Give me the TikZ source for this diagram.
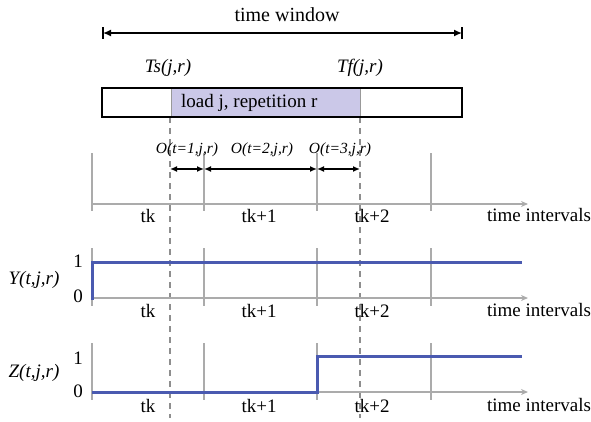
\documentclass[tikz,border=0pt]{standalone}
\usepackage{fontspec}
\setmainfont{Liberation Serif}
\usetikzlibrary{arrows.meta}
\definecolor{gridgray}{HTML}{ABABAB}
\definecolor{sigblue}{HTML}{4A5AB0}
\definecolor{loadfill}{HTML}{CBC8E8}
\definecolor{dashgray}{HTML}{8E8E8E}
\begin{document}
\begin{tikzpicture}[x=1pt,y=-1pt,
  lbl/.style={font=\fontsize{19}{22}\selectfont, inner sep=0pt, text height=13pt, text depth=4pt},
  ilbl/.style={font=\fontsize{19}{22}\selectfont\itshape, inner sep=0pt, text height=13pt, text depth=4pt},
  olbl/.style={font=\fontsize{15.5}{18}\selectfont\itshape, inner sep=0pt, text height=11pt, text depth=3.5pt},
  gridline/.style={draw=gridgray, line width=1.3pt},
  axisline/.style={draw=gridgray, line width=1.3pt, -{Stealth[length=7pt,width=6pt]}},
  signal/.style={draw=sigblue, line width=3pt},
  guide/.style={draw=dashgray, line width=1.2pt, dash pattern=on 6pt off 5pt},
  dimline/.style={draw=black, line width=1.4pt, {Latex[length=7pt,width=6pt]}-{Latex[length=7pt,width=6pt]}},
  barline/.style={draw=black, line width=1.6pt},
]
\useasboundingbox (0,0) rectangle (591,421);

% dashed guides
\coordinate (gs-top) at (170,117);
\coordinate (gs-bot) at (170,418);
\coordinate (gf-top) at (360,117);
\coordinate (gf-bot) at (360,418);
\draw[guide] (gs-top) -- (gs-bot);
\draw[guide] (gf-top) -- (gf-bot);

% time window
\node[font=\fontsize{20}{24}\selectfont, inner sep=0pt] (tw) at (287,15) {time window};
\coordinate (twl) at (103,33);
\coordinate (twr) at (462,33);
\coordinate (twl-a) at (103,27); \coordinate (twl-b) at (103,39);
\coordinate (twr-a) at (462,27); \coordinate (twr-b) at (462,39);
\draw[dimline, {Latex[length=8pt,width=7pt]}-{Latex[length=8pt,width=7pt]}] (twl) -- (twr);
\draw[barline] (twl-a) -- (twl-b);
\draw[barline] (twr-a) -- (twr-b);

% Ts / Tf
\node[ilbl] (ts) at (168,68) {Ts(j,r)};
\node[ilbl] (tf) at (360,68) {Tf(j,r)};

% load box
\draw[fill=loadfill, draw=gray!80, line width=1pt] (171,88) rectangle (360,117);
\draw[black, line width=1.5pt] (102,88) rectangle (462,117);
\node[lbl, anchor=west] (load) at (181,103) {load j, repetition r};

% ---- section 1 ----
\foreach \i/\x in {0/92,1/204,2/317,3/431}{
  \coordinate (a\i-top) at (\x,153);
  \coordinate (a\i-bot) at (\x,211);
  \draw[gridline] (a\i-top) -- (a\i-bot);
}
\coordinate (ax1-s) at (92,204);
\coordinate (ax1-e) at (528,204);
\draw[axisline] (ax1-s) -- (ax1-e);

\coordinate (o0) at (170,169);
\coordinate (o1) at (204,169);
\coordinate (o2) at (317,169);
\coordinate (o3) at (360,169);
\draw[dimline] (o0) -- (o1);
\draw[dimline] (o1) -- (o2);
\draw[dimline] (o2) -- (o3);
\node[olbl] (ol1) at (187,150) {O(t=1,j,r)};
\node[olbl] (ol2) at (262,150) {O(t=2,j,r)};
\node[olbl] (ol3) at (340,150) {O(t=3,j,r)};

\node[lbl] (t1a) at (148,218) {tk};
\node[lbl] (t1b) at (259,218) {tk+1};
\node[lbl] (t1c) at (372,218) {tk+2};
\node[lbl] (t1d) at (539,217) {time intervals};

% ---- section Y ----
\foreach \i/\x in {0/92,1/204,2/317,3/431}{
  \coordinate (b\i-top) at (\x,248);
  \coordinate (b\i-bot) at (\x,306);
  \draw[gridline] (b\i-top) -- (b\i-bot);
}
\coordinate (ax2-s) at (92,298);
\coordinate (ax2-e) at (528,298);
\draw[axisline] (ax2-s) -- (ax2-e);
\coordinate (y0) at (92,299.5);
\coordinate (y1) at (92,262);
\coordinate (y2) at (522,262);
\draw[signal] (y0) -- (y1) -- (y2);
\node[lbl] (y1l) at (78,263) {1};
\node[lbl] (y0l) at (78,298) {0};
\node[ilbl] (ylab) at (34,280) {Y(t,j,r)};
\node[lbl] (t2a) at (148,313) {tk};
\node[lbl] (t2b) at (259,313) {tk+1};
\node[lbl] (t2c) at (372,313) {tk+2};
\node[lbl] (t2d) at (539,312) {time intervals};

% ---- section Z ----
\foreach \i/\x in {0/92,1/204,2/317,3/431}{
  \coordinate (c\i-top) at (\x,343);
  \coordinate (c\i-bot) at (\x,400);
  \draw[gridline] (c\i-top) -- (c\i-bot);
}
\coordinate (ax3-s) at (92,392);
\coordinate (ax3-e) at (528,392);
\draw[axisline] (ax3-s) -- (ax3-e);
\coordinate (z0) at (92,392);
\coordinate (z1) at (317,392);
\coordinate (z2) at (317,356);
\coordinate (z3) at (522,356);
\draw[signal] (z0) -- (z1) -- (z2) -- (z3);
\node[lbl] (z1l) at (78,360) {1};
\node[lbl] (z0l) at (78,393) {0};
\node[ilbl] (zlab) at (34,373) {Z(t,j,r)};
\node[lbl] (t3a) at (148,408) {tk};
\node[lbl] (t3b) at (259,408) {tk+1};
\node[lbl] (t3c) at (372,408) {tk+2};
\node[lbl] (t3d) at (539,407) {time intervals};
\end{tikzpicture}
\end{document}
